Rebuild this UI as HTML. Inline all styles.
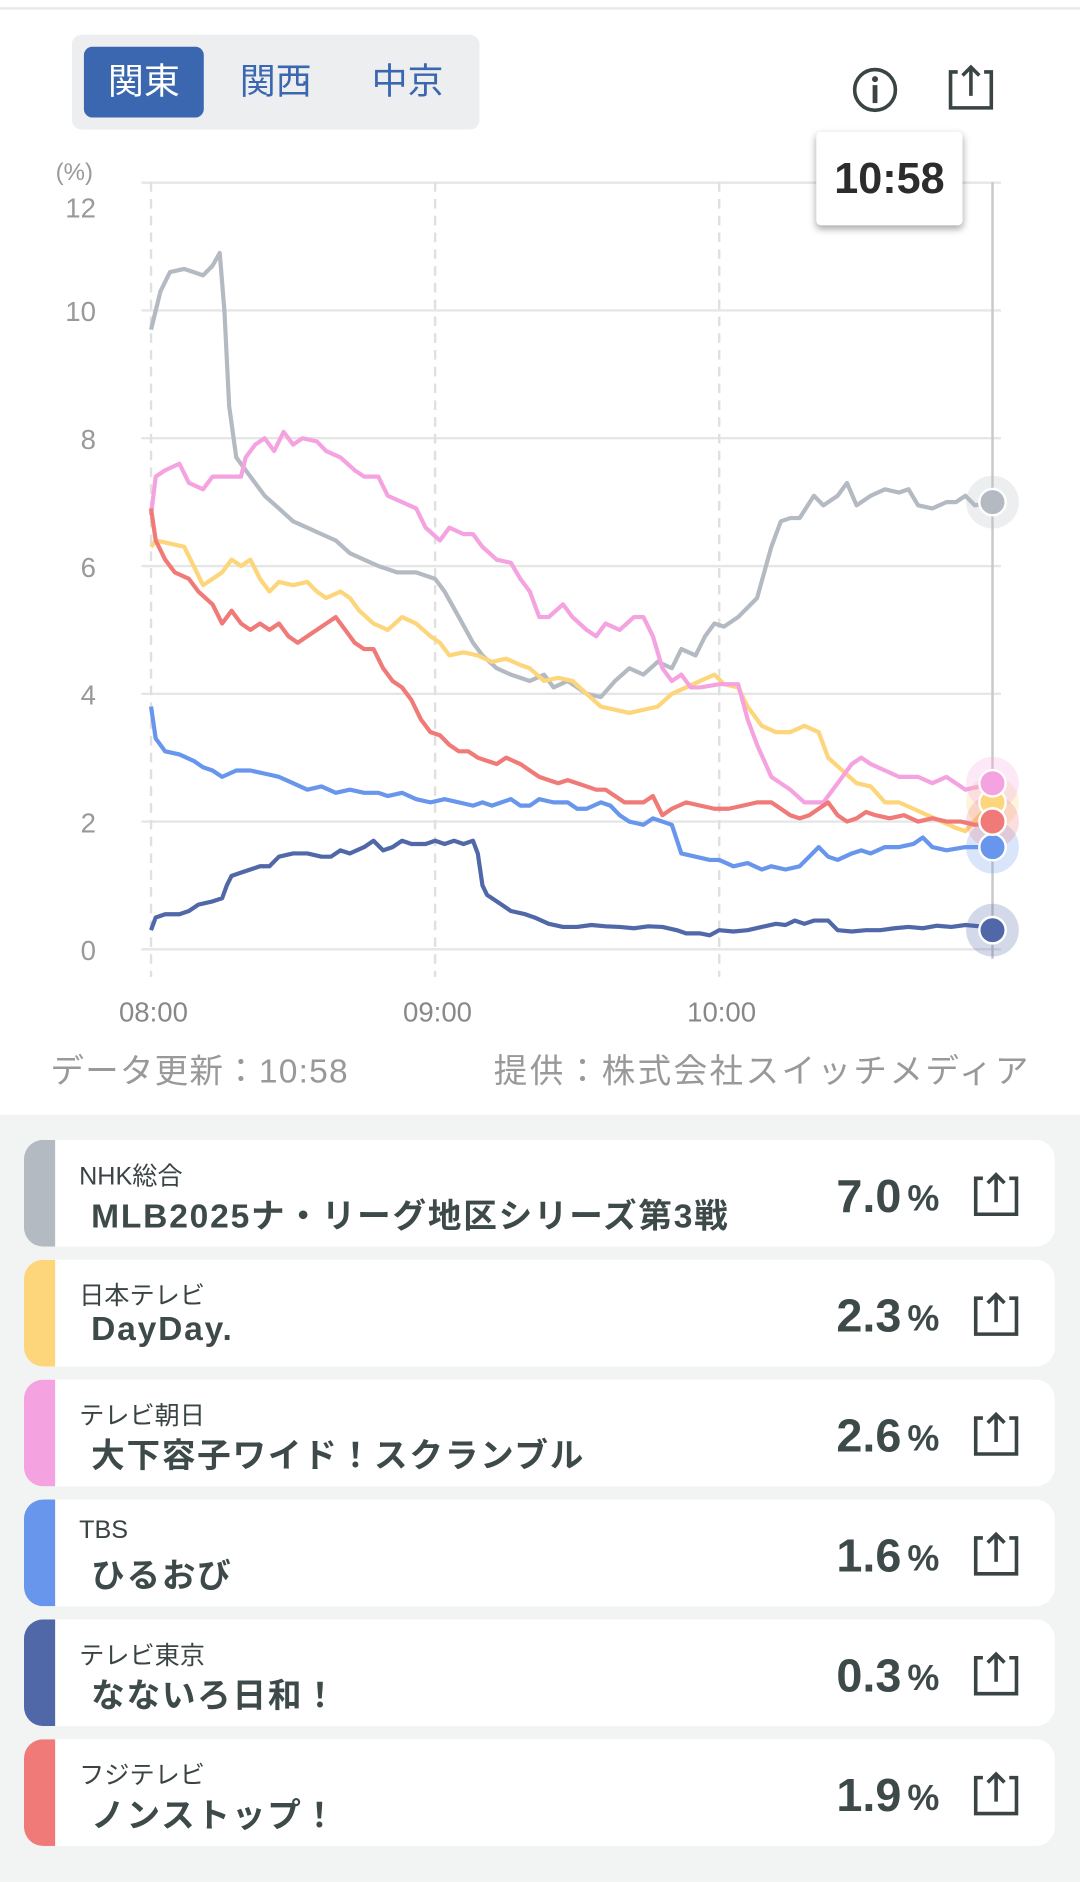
<!DOCTYPE html>
<html><head><meta charset="utf-8">
<style>
html,body{margin:0;padding:0;background:#fff;}
body{width:1080px;height:1879px;overflow:hidden;position:relative;}
#w{position:absolute;left:0;top:0;width:901px;height:1568px;transform:scale(1.19867);transform-origin:0 0;font-family:"Liberation Sans","Noto Sans CJK JP",sans-serif;}
.a{position:absolute;white-space:nowrap;}
.card{position:absolute;left:20px;width:860px;height:89px;background:#fff;border-radius:16px;overflow:hidden;}
.bar{position:absolute;left:0;top:0;width:26px;height:89px;}
.ch{position:absolute;left:46px;top:14px;font-size:21px;color:#3b4444;}
.tt{position:absolute;left:56px;top:42px;font-size:28px;font-weight:bold;color:#3e4a4a;letter-spacing:1.5px;}
.v{position:absolute;right:128px;top:26px;font-size:39px;font-weight:bold;color:#3e4a4a;}
.p{position:absolute;left:737px;top:33px;font-size:30px;font-weight:bold;color:#3e4a4a;}
.sh{position:absolute;left:790px;top:26px;}
</style></head><body><div id="w">
<div class="a" style="left:0;top:6px;width:901px;height:2px;background:#e8eaea"></div>
<div class="a" style="left:60px;top:29px;width:340px;height:79px;background:#eceeef;border-radius:8px"></div>
<div class="a" style="left:70px;top:39px;width:100px;height:59px;background:#3b67b1;border-radius:7px;color:#fff;font-size:30px;line-height:59px;text-align:center">関東</div>
<div class="a" style="left:180px;top:39px;width:100px;line-height:59px;color:#3b67b1;font-size:30px;text-align:center">関西</div>
<div class="a" style="left:290px;top:39px;width:100px;line-height:59px;color:#3b67b1;font-size:30px;text-align:center">中京</div>
<svg class="a" style="left:700px;top:50px" width="150" height="50">
<circle cx="30" cy="25" r="17" fill="none" stroke="#3a4444" stroke-width="3"/>
<circle cx="30" cy="16" r="2.5" fill="#3a4444"/><rect x="28" y="21" width="4" height="15" fill="#3a4444"/>
<path d="M99 10 h-6 v30 h34 v-30 h-6 M110 30 V6 M103 13 L110 6 L117 13" fill="none" stroke="#3a4444" stroke-width="3"/>
</svg>
<svg id="ch" class="a" style="left:0;top:0" width="901" height="930"></svg>
<div class="a" style="left:681px;top:110px;width:122px;height:78px;background:#fff;border-radius:4px;box-shadow:0 3px 6px rgba(0,0,0,0.35);font-size:36px;font-weight:bold;color:#2c2c2c;line-height:78px;text-align:center">10:58</div>
<div class="a" style="left:42px;top:872px;font-size:28px;color:#999;letter-spacing:1px">データ更新：10:58</div>
<div class="a" style="right:41px;top:872px;font-size:28px;color:#999;letter-spacing:2px">提供：株式会社スイッチメディア</div>
<div class="a" style="left:0;top:930px;width:901px;height:640px;background:#f2f4f4"></div>
<div id="cards"></div>
</div>
<script>
var NS="http://www.w3.org/2000/svg",svg=document.getElementById('ch');
function el(t,a){var e=document.createElementNS(NS,t);for(var k in a)e.setAttribute(k,a[k]);svg.appendChild(e);return e;}
function X(t){return 126+t*3.95;}function Y(v){return 792-53.3*v;}
for(var v=0;v<=12;v+=2){el('line',{x1:118,x2:835,y1:Y(v),y2:Y(v),stroke:'#e6e6e6','stroke-width':2});
var tx=el('text',{x:80,y:Y(v)+(v==12?29:9),'text-anchor':'end','font-size':23,fill:'#999','font-family':'Liberation Sans'});tx.textContent=v;}
var t0=el('text',{x:62,y:150,'text-anchor':'middle','font-size':20,fill:'#999'});t0.textContent='(%)';
[0,60,120].forEach(function(t,i){el('line',{x1:X(t),x2:X(t),y1:152,y2:815,stroke:'#e0e0e0','stroke-width':2,'stroke-dasharray':'8,6'});
var tx=el('text',{x:X(t)+2,y:852,'text-anchor':'middle','font-size':23,fill:'#888'});tx.textContent=['08:00','09:00','10:00'][i];});
el('line',{x1:828,x2:828,y1:152,y2:800,stroke:'#c8c8c8','stroke-width':2});
var S={
g:['#b4bac2',[0,9.7,2,10.3,4,10.6,7,10.65,9,10.6,11,10.55,13,10.7,14.5,10.9,15.5,10.0,16.5,8.5,18,7.7,21,7.4,24,7.1,27,6.9,30,6.7,33,6.6,36,6.5,39,6.4,42,6.2,45,6.1,48,6.0,52,5.9,56,5.9,60,5.8,62,5.6,65,5.2,68,4.8,70,4.6,73,4.4,76,4.3,80,4.2,83,4.3,85,4.1,88,4.2,92,4.0,95,3.95,98,4.2,101,4.4,104,4.3,107,4.5,110,4.4,112,4.7,115,4.6,117,4.9,119,5.1,121,5.05,124,5.2,128,5.5,131,6.3,133,6.7,135,6.75,137,6.75,140,7.1,142,6.95,145,7.1,147,7.3,149,6.95,152,7.1,155,7.2,158,7.15,160,7.2,162,6.95,165,6.9,168,7.0,170,7.0,172,7.1,174,6.95,178,7.0]],
y:['#fdd57a',[0,6.3,1,6.4,4,6.35,7,6.3,9,6.0,11,5.7,13,5.8,15,5.9,17,6.1,19,6.0,21,6.1,23,5.8,25,5.6,27,5.75,30,5.7,33,5.75,35,5.6,37,5.5,40,5.6,42,5.5,44,5.3,47,5.1,50,5.0,53,5.2,56,5.1,59,4.9,61,4.8,63,4.6,66,4.65,69,4.6,72,4.5,75,4.55,78,4.45,80,4.4,83,4.2,86,4.25,89,4.2,92,4.0,95,3.8,98,3.75,101,3.7,104,3.75,107,3.8,110,4.0,113,4.1,116,4.2,119,4.3,121,4.15,124,4.1,126,3.8,129,3.5,132,3.4,135,3.4,138,3.5,141,3.4,143,3.0,146,2.8,149,2.6,152,2.55,155,2.3,158,2.3,161,2.2,164,2.1,167,2.0,170,1.9,172,1.85,175,2.1,178,2.3]],
p:['#f5a3e0',[0,6.8,1,7.4,3,7.5,6,7.6,8,7.3,11,7.2,13,7.4,17,7.4,19,7.4,20,7.7,22,7.9,24,8.0,26,7.8,28,8.1,30,7.9,32,8.0,35,7.95,37,7.8,40,7.7,43,7.5,45,7.4,48,7.4,50,7.1,53,7.0,56,6.9,58,6.6,61,6.4,63,6.6,66,6.5,68,6.5,70,6.3,73,6.1,76,6.05,78,5.8,80,5.6,82,5.2,84,5.2,87,5.4,89,5.2,92,5.0,94,4.9,96,5.1,99,5.0,102,5.2,104,5.2,106,4.9,108,4.4,110,4.2,112,4.3,114,4.1,116,4.1,120,4.15,124,4.15,126,3.6,128,3.2,131,2.7,135,2.5,138,2.3,142,2.3,145,2.6,148,2.9,150,3.0,152,2.9,155,2.8,158,2.7,162,2.7,165,2.6,168,2.7,172,2.5,175,2.55,178,2.6]],
r:['#f07a78',[0,6.9,1,6.4,3,6.1,5,5.9,8,5.8,10,5.6,13,5.4,15,5.1,17,5.3,19,5.1,21,5.0,23,5.1,25,5.0,27,5.1,29,4.9,31,4.8,33,4.9,35,5.0,37,5.1,39,5.2,41,5.0,43,4.8,45,4.7,47,4.7,49,4.4,51,4.2,53,4.1,55,3.9,57,3.6,59,3.4,61,3.35,63,3.2,65,3.1,67,3.1,69,3.0,71,2.95,73,2.9,75,3.0,78,2.9,80,2.8,82,2.7,84,2.65,86,2.6,88,2.65,90,2.6,92,2.55,94,2.5,96,2.5,98,2.4,100,2.3,102,2.3,104,2.3,106,2.4,108,2.1,110,2.2,113,2.3,116,2.25,119,2.2,122,2.2,125,2.25,128,2.3,131,2.3,133,2.2,135,2.1,137,2.05,139,2.1,141,2.2,143,2.3,145,2.1,147,2.0,149,2.05,151,2.15,153,2.1,156,2.05,159,2.1,162,2.0,165,2.05,168,2.0,171,2.0,174,1.95,178,2.0]],
b:['#6896ed',[0,3.8,1,3.3,3,3.1,6,3.05,9,2.95,11,2.85,13,2.8,15,2.7,18,2.8,21,2.8,24,2.75,27,2.7,30,2.6,33,2.5,36,2.55,39,2.45,42,2.5,45,2.45,48,2.45,50,2.4,53,2.45,56,2.35,59,2.3,62,2.35,65,2.3,68,2.25,70,2.3,72,2.25,74,2.3,76,2.35,78,2.25,80,2.25,82,2.35,85,2.3,88,2.3,90,2.2,92,2.2,95,2.3,97,2.25,99,2.1,101,2.0,104,1.95,106,2.05,108,2.0,110,1.95,112,1.5,115,1.45,118,1.4,120,1.4,123,1.3,126,1.35,129,1.25,131,1.3,134,1.25,137,1.3,139,1.45,141,1.6,143,1.45,145,1.4,148,1.5,150,1.55,152,1.5,155,1.6,158,1.6,161,1.65,163,1.75,165,1.6,168,1.55,172,1.6,175,1.6,178,1.6]],
n:['#5168a8',[0,0.3,1,0.5,3,0.55,6,0.55,8,0.6,10,0.7,13,0.75,15,0.8,16,1.0,17,1.15,19,1.2,21,1.25,23,1.3,25,1.3,27,1.45,30,1.5,33,1.5,36,1.45,38,1.45,40,1.55,42,1.5,45,1.6,47,1.7,49,1.55,51,1.6,53,1.7,55,1.65,58,1.65,60,1.7,62,1.65,64,1.7,66,1.65,68,1.7,69,1.5,70,1.0,71,0.85,73,0.75,76,0.6,79,0.55,81,0.5,84,0.4,87,0.35,90,0.35,93,0.38,96,0.36,99,0.35,102,0.33,105,0.36,108,0.35,111,0.3,113,0.25,116,0.25,118,0.22,120,0.3,123,0.28,126,0.3,129,0.35,132,0.4,134,0.38,136,0.45,138,0.4,140,0.45,143,0.45,145,0.3,148,0.28,151,0.3,154,0.3,157,0.33,160,0.35,163,0.33,166,0.37,169,0.35,172,0.38,175,0.36,178,0.3]]};
['g','y','p','r','b','n'].forEach(function(k){var d=S[k][1],pts=[];for(var i=0;i<d.length;i+=2)pts.push(X(d[i]).toFixed(1)+','+Y(d[i+1]).toFixed(1));
el('polyline',{points:pts.join(' '),fill:'none',stroke:S[k][0],'stroke-width':3.5,'stroke-linejoin':'round'});});
var D=[['#b4bac2',7.0],['#fdd57a',2.3],['#f5a3e0',2.6],['#6896ed',1.6],['#f07a78',2.0],['#5168a8',0.3]];
D.forEach(function(c){el('circle',{cx:828,cy:Y(c[1]),r:22,fill:c[0],'fill-opacity':0.25});});
D.forEach(function(c){el('circle',{cx:828,cy:Y(c[1]),r:11,fill:c[0],stroke:'#fff','stroke-width':2});});
var C=[['#b4bac2','NHK総合','MLB2025ナ・リーグ地区シリーズ第3戦','7.0'],['#fdd57a','日本テレビ','DayDay.','2.3'],['#f5a3e0','テレビ朝日','大下容子ワイド！スクランブル','2.6'],['#6896ed','TBS','ひるおび','1.6'],['#5168a8','テレビ東京','なないろ日和！','0.3'],['#f07a78','フジテレビ','ノンストップ！','1.9']];
var h='';C.forEach(function(c,i){h+='<div class="card" style="top:'+(951+i*100)+'px"><div class="bar" style="background:'+c[0]+'"></div><div class="ch">'+c[1]+'</div><div class="tt">'+c[2]+'</div><div class="v">'+c[3]+'</div><div class="p">%</div><svg class="sh" width="42" height="40"><path d="M10 6 h-6 v30 h34 v-30 h-6 M21 26 V3 M14 10 L21 3 L28 10" fill="none" stroke="#3a4444" stroke-width="3"/></svg></div>';});
document.getElementById('cards').innerHTML=h;
</script>
</body></html>
